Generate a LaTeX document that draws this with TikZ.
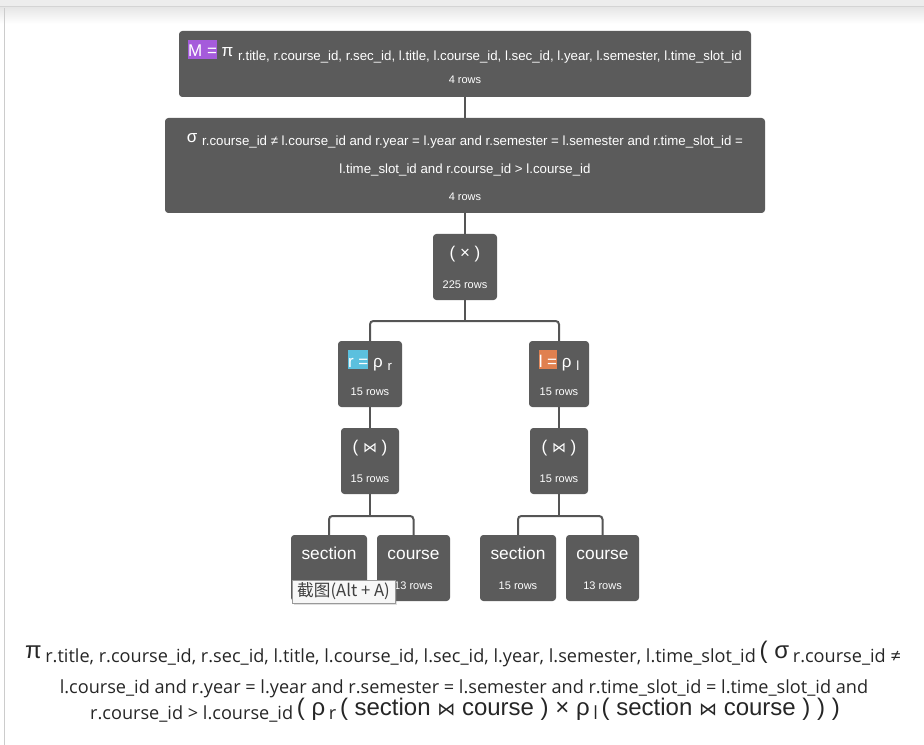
\documentclass[tikz,border=0pt]{standalone}
\usepackage{fontspec}
\setmainfont{Liberation Sans}
\newfontfamily\bowfont{DejaVu Sans}
\newfontfamily\formfont{Open Sans}
\newfontfamily\cjkfont{Noto Sans CJK SC}
\usetikzlibrary{positioning, shadows}

\definecolor{boxgrey}{HTML}{5B5B5B}
\definecolor{linegrey}{HTML}{555555}
\definecolor{hlpurple}{HTML}{A55BDB}
\definecolor{hlblue}{HTML}{5BC0DE}
\definecolor{hlorange}{HTML}{E0804F}

% sizes in px of the reference (1px = 0.75pt)
\newcommand{\subsz}{\fontsize{9.95}{11}\selectfont}
\newcommand{\bigsz}{\fontsize{12.75}{14}\selectfont}
\newcommand{\rowsz}{\fontsize{8.25}{9}\selectfont}
\newcommand{\leafsz}{\fontsize{13}{15}\selectfont}
\newcommand{\fbig}{\fontsize{18}{19}\selectfont}
\newcommand{\fsub}{\formfont\fontsize{13.6}{16}\selectfont}
\newcommand{\hlt}[2]{{\setlength{\fboxsep}{0pt}\colorbox{#1}{\rule[-0.14em]{0pt}{1.12em}#2}}}
\newcommand{\lowsub}[1]{\raisebox{-2.5pt}{\subsz #1}}
\newcommand{\fsubl}[1]{\raisebox{-3pt}{\fsub #1}}
\newcommand{\jn}[1]{{\bowfont\fontsize{#1}{#1}\selectfont ⋈}}

\begin{document}
\begin{tikzpicture}[x=0.75pt, y=-0.75pt,
  every node/.style={inner sep=0pt, outer sep=0pt},
  boxsize/.style 2 args={minimum width=#1*0.75pt, minimum height=#2*0.75pt},
  opbox/.style={fill=boxgrey, rounded corners=2.5pt},
  optitle/.style={text=white, anchor=base, font=\bigsz},
  oprows/.style={text=white, anchor=base, font=\rowsz},
  leaftitle/.style={text=white, anchor=base, font=\leafsz},
  formline/.style={anchor=base, text=black!85},
  link/.style={draw=linegrey, line width=1.5pt, rounded corners=2.5pt}]
\useasboundingbox (0,0) rectangle (924,745);

% window frame
\fill[black!7] (0,0) rectangle (924,7);
\shade[top color=black!10, bottom color=white] (0,7) rectangle (924,24);
\draw[black!17, line width=0.75pt] (0,7) -- (924,7);
\draw[black!20, line width=1pt] (4.5,8) -- (4.5,745);

% tree
\node[opbox, boxsize={572}{66}] (proj) at (465,64) {};
\node[optitle] (proj-t) at (465,57) {\hlt{hlpurple}{M =} π \lowsub{r.title, r.course\_id, r.sec\_id, l.title, l.course\_id, l.sec\_id, l.year, l.semester, l.time\_slot\_id}};
\node[oprows] (proj-n) at (465,84) {4 rows};

\node[opbox, boxsize={600}{95}] (sel) at (465,165.5) {};
\node[optitle] (sel-t1) at (465,142.5) {σ \lowsub{r.course\_id ≠ l.course\_id and r.year = l.year and r.semester = l.semester and r.time\_slot\_id =}};
\node[optitle, font=\subsz] (sel-t2) at (465,174) {l.time\_slot\_id and r.course\_id > l.course\_id};
\node[oprows] (sel-n) at (465,201) {4 rows};

\node[opbox, boxsize={64}{66}] (cross) at (465,267) {};
\node[optitle] (cross-t) at (465,258) {( × )};
\node[oprows] (cross-n) at (465,288) {225 rows};

\node[opbox, boxsize={64}{66}] (rho-r) at (370,374) {};
\node[optitle] (rho-r-t) at (370,367) {\hlt{hlblue}{r =} ρ \lowsub{r}};
\node[oprows] (rho-r-n) at (370,395) {15 rows};

\node[opbox, boxsize={60}{66}] (rho-l) at (559,374) {};
\node[optitle] (rho-l-t) at (559,367) {\hlt{hlorange}{l =} ρ \lowsub{l}};
\node[oprows] (rho-l-n) at (559,395) {15 rows};

\node[opbox, boxsize={58}{66}] (join-r) at (370,461) {};
\node[optitle] (join-r-t) at (370,452) {( \jn{10.5} )};
\node[oprows] (join-r-n) at (370,482) {15 rows};

\node[opbox, boxsize={58}{66}] (join-l) at (559,461) {};
\node[optitle] (join-l-t) at (559,452) {( \jn{10.5} )};
\node[oprows] (join-l-n) at (559,482) {15 rows};

\node[opbox, boxsize={76}{66}] (sec-r) at (329,568) {};
\node[leaftitle] (sec-r-t) at (329,559) {section};
\node[oprows] (sec-r-n) at (329,589) {15 rows};

\node[opbox, boxsize={73}{66}] (crs-r) at (413.5,568) {};
\node[leaftitle] (crs-r-t) at (413.5,559) {course};
\node[oprows] (crs-r-n) at (413.5,589) {13 rows};

\node[opbox, boxsize={76}{66}] (sec-l) at (518,568) {};
\node[leaftitle] (sec-l-t) at (518,559) {section};
\node[oprows] (sec-l-n) at (518,589) {15 rows};

\node[opbox, boxsize={73}{66}] (crs-l) at (602.5,568) {};
\node[leaftitle] (crs-l-t) at (602.5,559) {course};
\node[oprows] (crs-l-n) at (602.5,589) {13 rows};

% connectors
\path (cross.south) ++(0,21) coordinate (fork-x);
\path (join-r.south) ++(0,22) coordinate (fork-r);
\path (join-l.south) ++(0,22) coordinate (fork-l);
\draw[link] (proj.south) -- (sel.north);
\draw[link] (sel.south) -- (cross.north);
\draw[link] (cross.south) -- (fork-x);
\draw[link] (rho-r.north) |- (fork-x) -| (rho-l.north);
\draw[link] (rho-r.south) -- (join-r.north);
\draw[link] (rho-l.south) -- (join-l.north);
\draw[link] (join-r.south) -- (fork-r);
\draw[link] (sec-r.north) |- (fork-r) -| (crs-r.north);
\draw[link] (join-l.south) -- (fork-l);
\draw[link] (sec-l.north) |- (fork-l) -| (crs-l.north);

% tooltip
\node[fill=black!3, draw=black!40, line width=0.75pt, boxsize={103}{23},
  drop shadow={shadow xshift=1.5pt, shadow yshift=-1.5pt, opacity=0.25},
  text=black!75, font=\cjkfont\fontsize{12.5}{14}\selectfont] (tip) at (343.5,591.5) {截图(Alt + A)};

% expression
\node[formline] (expr-1) at (463,658) {{\fbig π} \fsubl{r.title, r.course\_id, r.sec\_id, l.title, l.course\_id, l.sec\_id, l.year, l.semester, l.time\_slot\_id} {\fbig ( σ} \fsubl{r.course\_id ≠}};
\node[formline, font=\fsub] (expr-2) at (464,693) {l.course\_id and r.year = l.year and r.semester = l.semester and r.time\_slot\_id = l.time\_slot\_id and};
\node[formline] (expr-3) at (465,715) {\fsubl{r.course\_id > l.course\_id} {\fbig ( ρ} \fsubl{r} {\fbig ( section \jn{13.5} course ) × ρ} \fsubl{l} {\fbig ( section \jn{13.5} course ) ) )}};
\end{tikzpicture}
\end{document}
